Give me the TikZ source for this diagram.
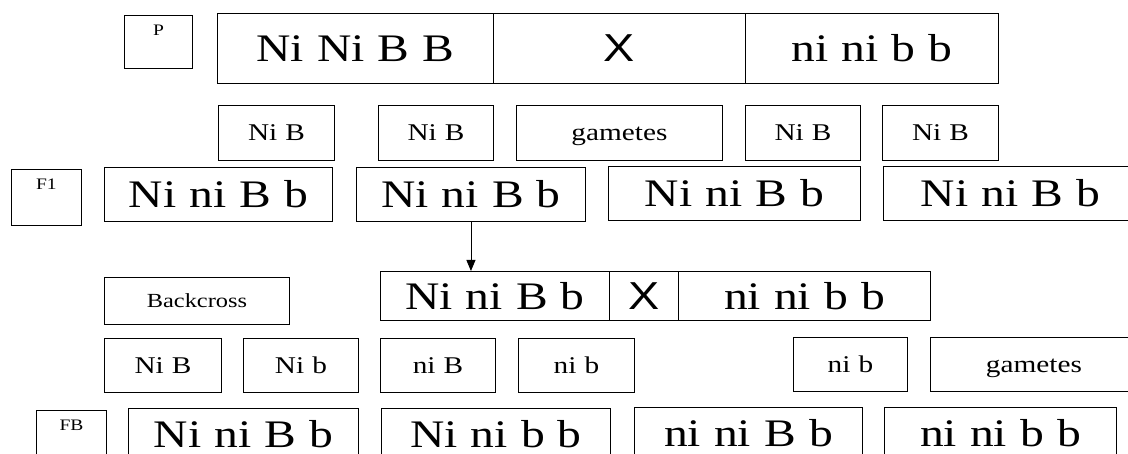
\documentclass[tikz,border=0pt]{standalone}
\usepackage{fontspec}
\setmainfont{Liberation Serif}[FakeStretch=1.22, WordSpace=1.1]
\newfontfamily\sansx{Liberation Sans}[FakeStretch=1.2]
\usetikzlibrary{arrows.meta}
\tikzset{
  kutu/.style   = {draw, line width=0.9pt, anchor=north west, inner sep=0pt, align=center},
  iri/.style    = {kutu, font=\fontsize{39}{43}\selectfont, minimum height=#1},
  carpi/.style  = {kutu, font=\sansx\fontsize{39}{43}\selectfont, minimum height=#1},
  gamet/.style  = {kutu, font=\fontsize{24}{27}\selectfont, minimum height=#1,
                   text height=16pt, text depth=0pt},
  etiket/.style = {kutu, font=\fontsize{16}{18}\selectfont, text height=20pt},
  ok/.style     = {-{Triangle[length=11pt,width=9pt]}, line width=0.9pt}
}
\begin{document}
\begin{tikzpicture}[x=1pt, y=-1pt]
    \useasboundingbox (0,0) rectangle (1128,454);

    % P
    \node[etiket, minimum width=68pt, text depth=33pt] (plbl) at (124,15) {P};
    \node[iri=70pt, minimum width=276pt] (pa) at (217,13) {Ni Ni B B};
    \node[carpi=70pt, minimum width=252pt] (px) at (493,13) {X};
    \node[iri=70pt, minimum width=253pt] (pb) at (745,13) {ni ni b b};

    % gametes of P
    \node[gamet=55pt, minimum width=116pt] (g1) at (218,105) {Ni B};
    \node[gamet=55pt, minimum width=115pt] (g2) at (378,105) {Ni B};
    \node[gamet=55pt, minimum width=206pt] (g3) at (516,105) {gametes};
    \node[gamet=55pt, minimum width=115pt] (g4) at (745,105) {Ni B};
    \node[gamet=55pt, minimum width=116pt] (g5) at (882,105) {Ni B};

    % F1
    \node[etiket, minimum width=70pt, text depth=36pt] (flbl) at (11,169) {F1};
    \node[iri=54pt, minimum width=228pt] (f1a) at (104,167) {Ni ni B b};
    \node[iri=54pt, minimum width=229pt] (f1b) at (356,167) {Ni ni B b};
    \node[iri=54pt, minimum width=252pt] (f1c) at (608,166) {Ni ni B b};
    \node[iri=54pt, minimum width=254pt] (f1d) at (883,166) {Ni ni B b};

    % backcross
    \node[kutu, font=\fontsize{20}{23}\selectfont, minimum width=185pt, minimum height=47pt] (bclbl) at (104,277) {Backcross};
    \node[iri=49pt, minimum width=229pt] (bca) at (380,271) {Ni ni B b};
    \node[carpi=49pt, minimum width=69pt] (bcx) at (609,271) {X};
    \node[iri=49pt, minimum width=252pt] (bcb) at (678,271) {ni ni b b};

    \draw[ok] (f1b.south) -- (f1b.south |- bca.north);

    % gametes of backcross
    \node[gamet=54pt, minimum width=117pt] (h1) at (104,338) {Ni B};
    \node[gamet=54pt, minimum width=115pt] (h2) at (243,338) {Ni b};
    \node[gamet=54pt, minimum width=115pt] (h3) at (380,338) {ni B};
    \node[gamet=54pt, minimum width=116pt] (h4) at (518,338) {ni b};
    \node[gamet=54pt, minimum width=114pt] (h5) at (793,337) {ni b};
    \node[gamet=54pt, minimum width=207pt] (h6) at (930,337) {gametes};

    % FB
    \node[etiket, minimum width=70pt, text depth=37pt] (fblbl) at (36,410) {FB};
    \node[iri=57pt, minimum width=230pt, text height=39pt, text depth=18pt] (fba) at (128,408) {Ni ni B b};
    \node[iri=57pt, minimum width=229pt, text height=39pt, text depth=18pt] (fbb) at (381,408) {Ni ni b b};
    \node[iri=57pt, minimum width=228pt, text height=39pt, text depth=18pt] (fbc) at (634,407) {ni ni B b};
    \node[iri=57pt, minimum width=232pt, text height=39pt, text depth=18pt] (fbd) at (884,407) {ni ni b b};
\end{tikzpicture}
\end{document}
